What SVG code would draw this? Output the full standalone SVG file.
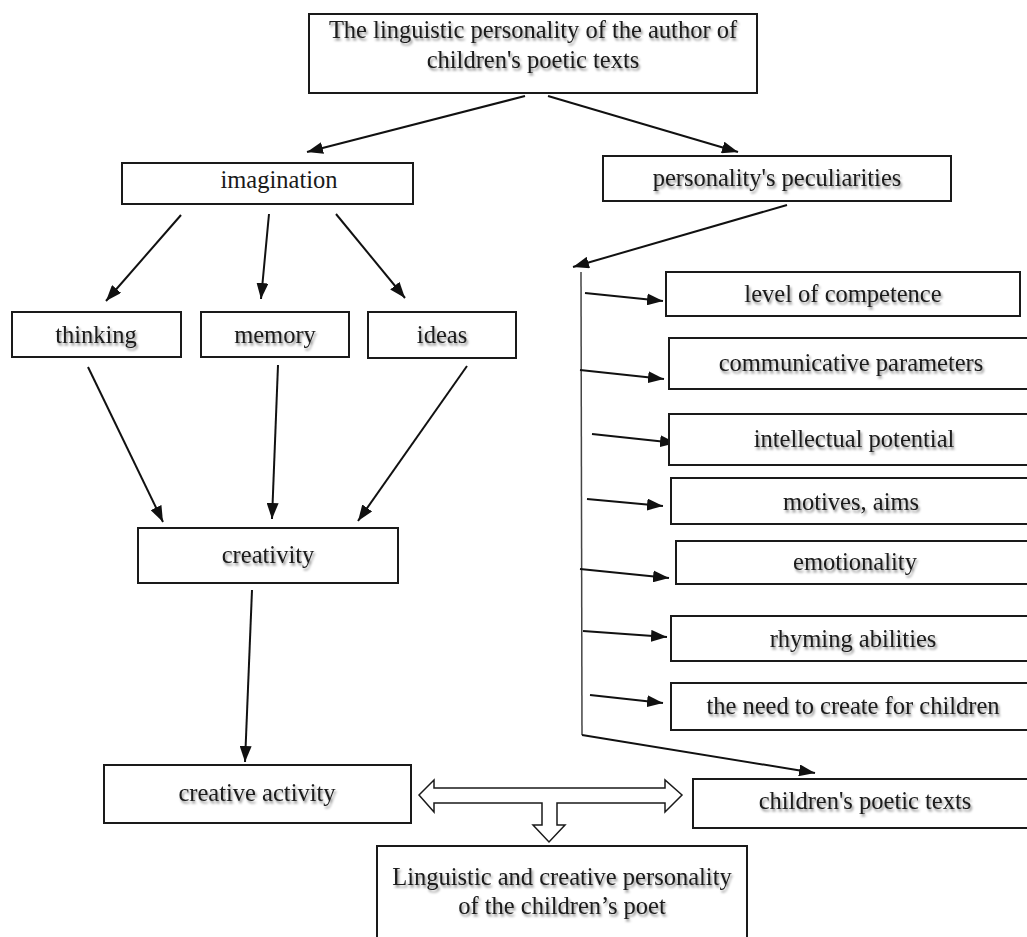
<svg xmlns="http://www.w3.org/2000/svg" width="1027" height="937" viewBox="0 0 1027 937">
<defs>
<filter id="sh" x="-10%" y="-30%" width="120%" height="170%">
<feDropShadow dx="1.5" dy="2.5" stdDeviation="1.3" flood-color="#000" flood-opacity="0.45"/>
</filter>
<marker id="ah" viewBox="0 0 16 12" refX="16" refY="6" markerWidth="16" markerHeight="12" markerUnits="userSpaceOnUse" orient="auto">
<path d="M0,0 L16,6 L0,12 Z" fill="#111"/>
</marker>
</defs>
<style>
.box{fill:#fff;stroke:#1a1a1a;stroke-width:2}
.t{font-family:"Liberation Serif","Times New Roman",serif;font-size:24.5px;fill:#1a1a1a;text-anchor:middle}
.s{filter:url(#sh)}
.c{stroke:#444;stroke-width:1.5;fill:none}
.a{stroke:#111;stroke-width:2;fill:none;marker-end:url(#ah)}
</style>
<rect width="1027" height="937" fill="#fff"/>

<g id="connectors">
<line class="a" x1="525" y1="96" x2="307" y2="152"/>
<line class="a" x1="548" y1="96" x2="738" y2="152"/>
<line class="a" x1="181" y1="215" x2="106" y2="301"/>
<line class="a" x1="269" y1="214" x2="261" y2="299"/>
<line class="a" x1="336" y1="214" x2="405" y2="298"/>
<line class="a" x1="88" y1="367" x2="163" y2="522"/>
<line class="a" x1="278" y1="365" x2="272" y2="519"/>
<line class="a" x1="467" y1="366" x2="358" y2="521"/>
<line class="a" x1="252" y1="590" x2="245" y2="762"/>
<line class="a" x1="787" y1="205" x2="573" y2="267"/>
<line class="c" x1="581" y1="272" x2="582" y2="735"/>
<line class="a" x1="582" y1="735" x2="815" y2="773"/>
<line class="a" x1="585" y1="293" x2="663" y2="301"/>
<line class="a" x1="580" y1="370" x2="664" y2="379"/>
<line class="a" x1="592" y1="434" x2="676" y2="443"/>
<line class="a" x1="587" y1="499" x2="663" y2="506"/>
<line class="a" x1="580" y1="569" x2="669" y2="578"/>
<line class="a" x1="583" y1="631" x2="667" y2="637"/>
<line class="a" x1="590" y1="695" x2="663" y2="703"/>
<path d="M419,795 L434,780 L434,788 L665,788 L665,780 L682,795 L665,812 L665,803 L557,803 L557,825 L565,825 L549,842 L533,825 L542,825 L542,803 L434,803 L434,812 Z" fill="#fff" stroke="#1a1a1a" stroke-width="1.5"/>
</g>

<g id="n-top"><rect class="box" x="309" y="14" width="448" height="79"/>
<text class="t s" x="533" y="38">The linguistic personality of the author of</text>
<text class="t s" x="533" y="68">children's poetic texts</text></g>

<g id="n-imagination"><rect class="box" x="122" y="163" width="291" height="41"/>
<text class="t" x="279" y="188">imagination</text></g>

<g id="n-personality"><rect class="box" x="603" y="156" width="348" height="45"/>
<text class="t s" x="777" y="186">personality's peculiarities</text></g>

<g id="n-thinking"><rect class="box" x="12" y="312" width="169" height="45"/>
<text class="t s" x="96" y="343">thinking</text></g>
<g id="n-memory"><rect class="box" x="201" y="312" width="148" height="45"/>
<text class="t s" x="275" y="343">memory</text></g>
<g id="n-ideas"><rect class="box" x="368" y="312" width="148" height="46"/>
<text class="t s" x="442" y="343">ideas</text></g>

<g id="n-creativity"><rect class="box" x="138" y="528" width="260" height="55"/>
<text class="t s" x="268" y="563">creativity</text></g>

<g id="n-creative-activity"><rect class="box" x="104" y="765" width="307" height="58"/>
<text class="t s" x="257" y="801">creative activity</text></g>

<g id="n-level"><rect class="box" x="666" y="272" width="354" height="44"/>
<text class="t s" x="843" y="302">level of competence</text></g>
<g id="n-comm"><rect class="box" x="669" y="338" width="370" height="51"/>
<text class="t s" x="851" y="371">communicative parameters</text></g>
<g id="n-intel"><rect class="box" x="669" y="414" width="370" height="51"/>
<text class="t s" x="854" y="447">intellectual potential</text></g>
<g id="n-motives"><rect class="box" x="671" y="478" width="370" height="46"/>
<text class="t s" x="851" y="510">motives, aims</text></g>
<g id="n-emot"><rect class="box" x="676" y="541" width="370" height="43"/>
<text class="t s" x="855" y="570">emotionality</text></g>
<g id="n-rhyming"><rect class="box" x="671" y="616" width="370" height="45"/>
<text class="t s" x="853" y="647">rhyming abilities</text></g>
<g id="n-need"><rect class="box" x="671" y="683" width="370" height="47"/>
<text class="t s" x="853" y="714">the need to create for children</text></g>
<g id="n-texts"><rect class="box" x="693" y="779" width="370" height="49"/>
<text class="t s" x="865" y="809">children's poetic texts</text></g>

<g id="n-poet"><rect class="box" x="377" y="846" width="370" height="100"/>
<text class="t s" x="562" y="885">Linguistic and creative personality</text>
<text class="t s" x="562" y="914">of the children’s poet</text></g>
</svg>
